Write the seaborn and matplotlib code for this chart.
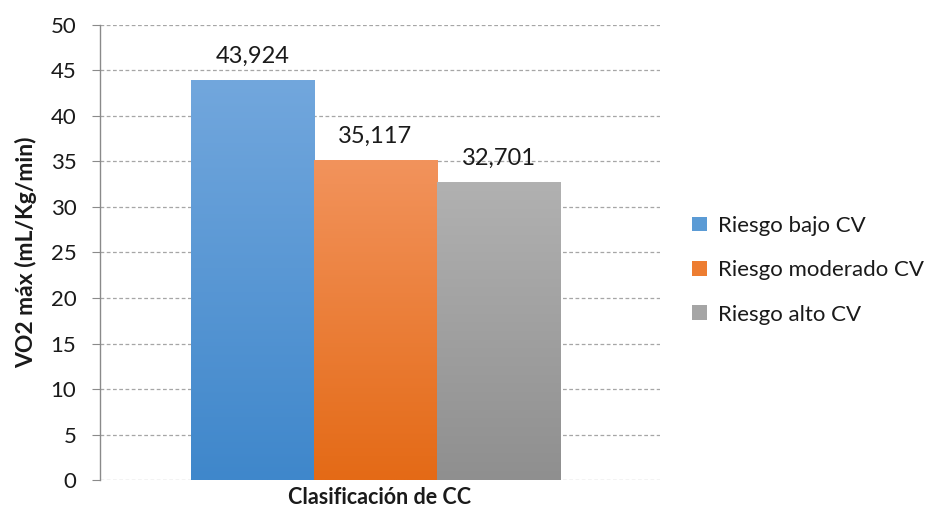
import numpy as np
import pandas as pd
import matplotlib
matplotlib.use("Agg")
import matplotlib.pyplot as plt
import seaborn as sns
from matplotlib.colors import LinearSegmentedColormap
from matplotlib.patches import Patch

# data
grupos = ["Riesgo bajo CV", "Riesgo moderado CV", "Riesgo alto CV"]
valores = [43.924, 35.117, 32.701]
etiquetas = ["43,924", "35,117", "32,701"]

# gradient colours (top, bottom) per series
col_top = ["#72a7dd", "#f2935c", "#b1b1b1"]
col_bot = ["#3f87cb", "#e46a16", "#8f8f8f"]
col_mid = ["#5b9bd5", "#ed7d31", "#a5a5a5"]

sns.set_style("white")
plt.rcParams["font.family"] = ["Lato", "DejaVu Sans"]

df = pd.DataFrame({"cat": ["CC"] * 3, "grupo": grupos, "valor": valores})

fig = plt.figure(figsize=(9.43, 5.07), dpi=100)
ax = fig.add_axes([0.106, 0.053, 0.594, 0.898])

sns.barplot(data=df, x="cat", y="valor", hue="grupo", hue_order=grupos,
            palette=col_mid, width=0.8, ax=ax, legend=False, saturation=1)

# gradient fill for each bar
for i, patch in enumerate(ax.patches):
    x0, y0 = patch.get_x(), patch.get_y()
    w, h = patch.get_width(), patch.get_height()
    cmap = LinearSegmentedColormap.from_list("g", [col_bot[i], col_top[i]])
    grad = np.linspace(0, 1, 256).reshape(-1, 1)
    im = ax.imshow(grad, cmap=cmap, aspect="auto", origin="lower",
                   extent=[x0, x0 + w, y0, y0 + h], zorder=2)
    im.set_clip_path(patch)
    patch.set_facecolor("none")
    patch.set_edgecolor("none")
    ax.text(x0 + w / 2, h + 1.9, etiquetas[i], ha="center", va="baseline",
            fontsize=17, color="#1a1a1a")

ax.set_xlim(-0.597, 0.617)
ax.set_ylim(0, 50)
ax.set_yticks(np.arange(0, 51, 5))

ax.yaxis.grid(True, linestyle=(0, (3, 2)), color="#a6a6a6", linewidth=0.9)
ax.set_axisbelow(True)
for s in ["top", "right", "bottom"]:
    ax.spines[s].set_visible(False)
ax.spines["left"].set_color("#8a8a8a")
ax.spines["left"].set_linewidth(1.0)
ax.tick_params(axis="y", length=6, color="#8a8a8a", labelsize=16,
               labelcolor="#1a1a1a", pad=11, left=True)
ax.tick_params(axis="x", length=0, labelbottom=False)

ax.set_xlabel("Clasificación de CC", fontsize=15.5, fontweight="bold",
              color="#1a1a1a", labelpad=5)
ax.set_ylabel("VO2 máx (mL/Kg/min)", fontsize=16.5, fontweight="bold",
              color="#1a1a1a", labelpad=10)

handles = [Patch(facecolor=c, edgecolor="none") for c in col_mid]
fig.legend(handles, grupos, loc="center left", bbox_to_anchor=(0.713, 0.467),
           frameon=False, fontsize=16, handlelength=0.65, handleheight=0.65,
           handletextpad=0.5, labelspacing=1.1, labelcolor="#1a1a1a")

fig.savefig("out.png", dpi=100)
